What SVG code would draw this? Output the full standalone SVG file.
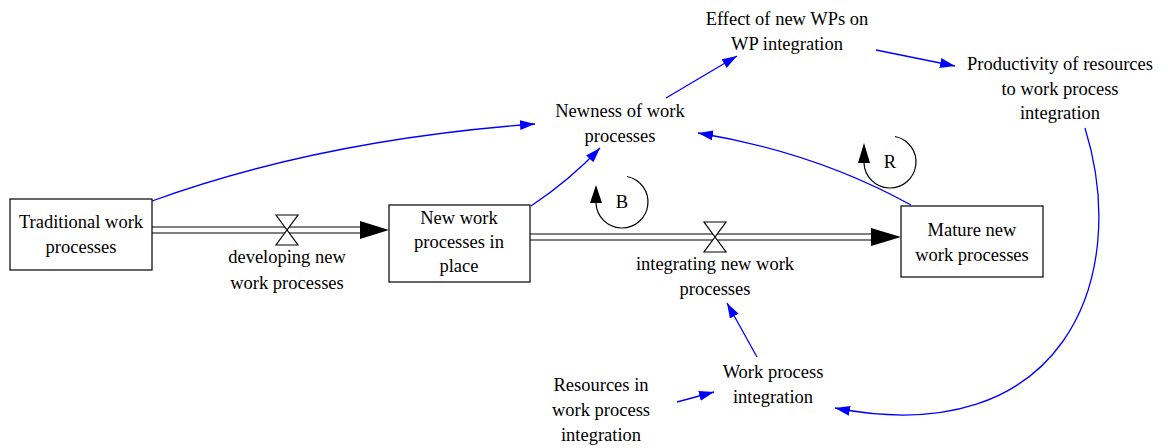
<svg xmlns="http://www.w3.org/2000/svg" width="1168" height="448" viewBox="0 0 1168 448">
  <style>
    text { font-family: "Liberation Serif", "Times New Roman", serif; font-size: 18.5px; fill: #000; text-anchor: middle; }
    .stock { fill: #fff; stroke: #000; stroke-width: 1.2; }
    .pipe { stroke: #000; stroke-width: 1.2; fill: none; }
    .valve { fill: #fff; stroke: #000; stroke-width: 1.2; }
    .link { stroke: #0000ff; stroke-width: 1.3; fill: none; marker-end: url(#blueHead); }
    .loop { stroke: #000; stroke-width: 1.2; fill: none; }
  </style>
  <defs>
    <marker id="blueHead" markerUnits="userSpaceOnUse" markerWidth="16" markerHeight="11" refX="15" refY="5" orient="auto">
      <path d="M0,0 L15,5 L0,10 z" fill="#0000ff"/>
    </marker>
  </defs>
  <rect width="1168" height="448" fill="#fff"/>

  <!-- causal links -->
  <g id="connectors">
    <path class="link" d="M152,201 Q320,140 535,124"/>
    <path class="link" d="M531,206 Q570,180 600,148"/>
    <path class="link" d="M666,98 L737,56"/>
    <path class="link" d="M876,50 L955,66"/>
    <path class="link" d="M911,205 Q815,152 698,133"/>
    <path class="link" d="M1085,128 C1132,280 1062,452 835,408"/>
    <path class="link" d="M757,357 L727,303"/>
    <path class="link" d="M677,402 L714,392"/>
  </g>

  <!-- flow: developing new work processes -->
  <g id="flow-developing">
    <line class="pipe" x1="152" y1="227" x2="362" y2="227"/>
    <line class="pipe" x1="152" y1="233" x2="362" y2="233"/>
    <polygon points="360,221 389,230 360,239" fill="#000"/>
    <polygon class="valve" points="276,215 298,215 287,230"/>
    <polygon class="valve" points="287,230 276,245 298,245"/>
    <text x="287" y="263">developing new</text>
    <text x="287" y="289">work processes</text>
  </g>

  <!-- flow: integrating new work processes -->
  <g id="flow-integrating">
    <line class="pipe" x1="530" y1="234" x2="873" y2="234"/>
    <line class="pipe" x1="530" y1="240" x2="873" y2="240"/>
    <polygon points="871,228 901,237 871,246" fill="#000"/>
    <polygon class="valve" points="704,222 726,222 715,237"/>
    <polygon class="valve" points="715,237 704,252 726,252"/>
    <text x="715" y="270">integrating new work</text>
    <text x="715" y="295">processes</text>
  </g>

  <g id="stock-traditional">
    <rect class="stock" x="10" y="199" width="142" height="71"/>
    <text x="81" y="228">Traditional work</text>
    <text x="81" y="253">processes</text>
  </g>

  <g id="stock-new">
    <rect class="stock" x="389" y="205" width="141" height="77"/>
    <text x="459" y="224">New work</text>
    <text x="459" y="248">processes in</text>
    <text x="459" y="272">place</text>
  </g>

  <g id="stock-mature">
    <rect class="stock" x="901" y="206" width="142" height="71"/>
    <text x="972" y="236">Mature new</text>
    <text x="972" y="261">work processes</text>
  </g>

  <g id="var-newness">
    <text x="620" y="117">Newness of work</text>
    <text x="620" y="142">processes</text>
  </g>

  <g id="var-effect">
    <text x="787" y="25">Effect of new WPs on</text>
    <text x="787" y="50">WP integration</text>
  </g>

  <g id="var-productivity">
    <text x="1060" y="70">Productivity of resources</text>
    <text x="1060" y="95">to work process</text>
    <text x="1060" y="119">integration</text>
  </g>

  <g id="var-wpi">
    <text x="773" y="378">Work process</text>
    <text x="773" y="403">integration</text>
  </g>

  <g id="var-resources">
    <text x="601" y="391">Resources in</text>
    <text x="601" y="416">work process</text>
    <text x="601" y="441">integration</text>
  </g>

  <!-- loop identifiers -->
  <g id="loop-B">
    <path class="loop" d="M627,176.5 A26,26 0 1 1 596,203"/>
    <polygon points="596,185 590,203 602,203" fill="#000"/>
    <text x="622" y="208">B</text>
  </g>
  <g id="loop-R">
    <path class="loop" d="M895,136.5 A26,26 0 1 1 864,163"/>
    <polygon points="864,143 858,163 870,163" fill="#000"/>
    <text x="890" y="168">R</text>
  </g>
</svg>
